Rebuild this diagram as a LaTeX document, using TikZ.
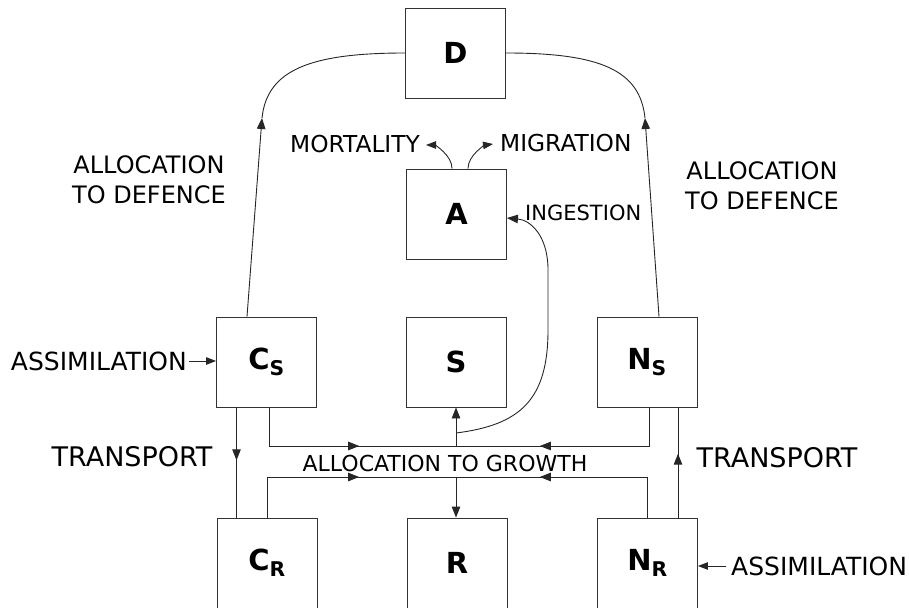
\documentclass[tikz,border=0pt]{standalone}
\usepackage{fontspec}
\setmainfont{DejaVu Sans}
\usetikzlibrary{arrows.meta,decorations.markings,calc}
\begin{document}
\begin{tikzpicture}[x=1pt,y=-1pt,
  box/.style={draw=black!80,line width=0.9pt,minimum width=100pt,minimum height=90pt,inner sep=0pt,font=\fontsize{29}{32}\selectfont\bfseries},
  lbl/.style={inner sep=0pt,font=\fontsize{25}{30}\selectfont},
  deflbl/.style={inner sep=0pt,font=\fontsize{24}{29.5}\selectfont},
  trlbl/.style={inner sep=0pt,font=\fontsize{27}{30}\selectfont},
  mlbl/.style={inner sep=0pt,font=\fontsize{23.3}{27}\selectfont},
  slbl/.style={inner sep=0pt,font=\fontsize{21}{25}\selectfont},
  glbl/.style={inner sep=0pt,font=\fontsize{22}{25}\selectfont},
  conn/.style={draw=black!85,line width=0.9pt},
  tip/.style={-{Triangle[length=11pt,width=8.5pt]}},
  smalltip/.style={-{Triangle[length=10pt,width=7.5pt]}},
  arrowat/.style={postaction={decorate},decoration={markings,mark=at position #1 with {\arrow{Triangle[length=11pt,width=8.5pt]}}}},
]
\useasboundingbox (0,0) rectangle (909,607);
\clip (0,0) rectangle (909,607);

% boxes
\node[box] (D) at (455.5,53) {D};
\node[box] (A) at (456.5,214) {A};
\node[box] (Cs) at (266.5,362) {C\textsubscript{S}};
\node[box] (S) at (456,362) {S};
\node[box] (Ns) at (647,362) {N\textsubscript{S}};
\node[box] (Cr) at (267,563) {C\textsubscript{R}};
\node[box] (R) at (457,563) {R};
\node[box] (Nr) at (647.5,563) {N\textsubscript{R}};

% labels
\node[deflbl,align=center] (defl) at (149,180) {ALLOCATION\\TO DEFENCE};
\node[deflbl,align=center] (defr) at (762,186) {ALLOCATION\\TO DEFENCE};
\node[mlbl,anchor=east] (mort) at (420,144) {MORTALITY};
\node[mlbl,anchor=west] (migr) at (500,143) {MIGRATION};
\node[slbl,anchor=west] (inges) at (525,213) {INGESTION};
\node[lbl,anchor=east] (asl) at (187,361) {ASSIMILATION};
\node[lbl,anchor=west] (asr) at (731,566) {ASSIMILATION};
\node[trlbl] (trl) at (132,457) {TRANSPORT};
\node[trlbl] (trr) at (777,458) {TRANSPORT};
\node[glbl] (grow) at (445,463) {ALLOCATION TO GROWTH};

% helper coordinates
\coordinate (g1) at (456,446);
\coordinate (g2) at (456,477);
\coordinate (ing) at (456,433);
\coordinate (dl) at (262,118);
\coordinate (dr) at (645,118);

% allocation to defence
\draw[conn,tip] ([xshift=-19.5pt]Cs.north) -- (dl);
\draw[conn] (dl) .. controls (267,70) and (310,53) .. (D.west);
\draw[conn,tip] ([xshift=12pt]Ns.north) -- (dr);
\draw[conn] (dr) .. controls (640,70) and (600,53) .. (D.east);

% mortality / migration
\draw[conn,smalltip] ([xshift=-4.5pt]A.north) .. controls +(0,-14) and ($(mort.east)+(14,1)$) .. ([xshift=6pt,yshift=-1pt]mort.east);
\draw[conn,smalltip] ([xshift=11.5pt]A.north) .. controls +(0,-14) and ($(migr.west)+(-14,2)$) .. ([xshift=-7pt,yshift=-1pt]migr.west);

% ingestion
\draw[conn,tip] (ing) .. controls (520,425) and (548,400) .. (548,330) -- (548,270) .. controls (548,235) and (530,220) .. ([yshift=-4pt]A.east);

% transport
\draw[conn,arrowat=0.48] ([xshift=-30pt]Cs.south) -- ([xshift=-30pt]Cs.south |- Cr.north);
\draw[conn,arrowat=0.58] ([xshift=30.5pt]Nr.north) -- ([xshift=30.5pt]Nr.north |- Ns.south);

% assimilation
\draw[conn,smalltip] ([xshift=2pt]asl.east) -- (asl.east -| Cs.west);
\draw[conn,smalltip] ([xshift=-5pt]asr.west) -- (asr.west -| Nr.east);

% allocation to growth
\draw[conn,arrowat=0.571] ([xshift=2.5pt]Cs.south) |- (g1);
\draw[conn,arrowat=0.638] ([xshift=2pt]Ns.south) |- (g1);
\draw[conn,tip] (g1) -- (S.south);
\draw[conn,arrowat=0.578] (Cr.north) |- (g2);
\draw[conn,arrowat=0.639] (Nr.north) |- (g2);
\draw[conn,tip] (g2) -- (g2 |- R.north);
\end{tikzpicture}
\end{document}
